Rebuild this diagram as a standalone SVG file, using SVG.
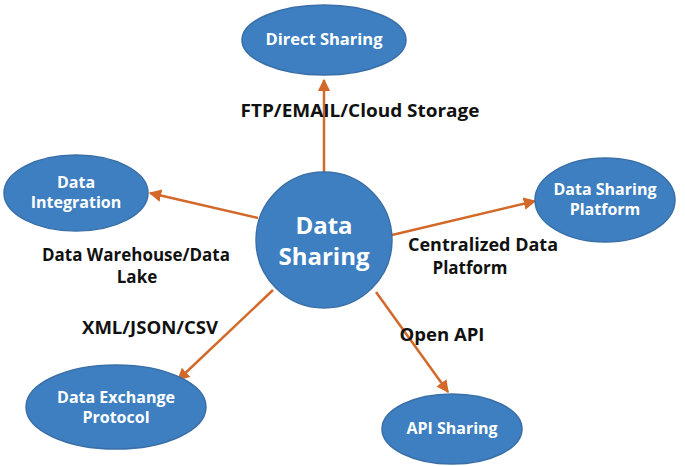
<svg xmlns="http://www.w3.org/2000/svg" width="685" height="466" viewBox="0 0 685 466">
<defs>
<marker id="ah" viewBox="0 0 10 10" refX="9" refY="5" markerWidth="5" markerHeight="5" orient="auto"><path d="M0,0 L10,5 L0,10 z" fill="#d2692a"/></marker>
<style>
.n{fill:#3e7fc1;stroke:#3a6fa8;stroke-width:1.5}
.t{fill:#fff;font-family:"Open Sans","Noto Sans",sans-serif;font-weight:bold;font-size:16px;text-anchor:middle}
.l{fill:#111;font-family:"Open Sans","Noto Sans",sans-serif;font-weight:bold;font-size:17px;text-anchor:middle}
.c{stroke:#d2692a;stroke-width:2.5;fill:none;marker-end:url(#ah)}
</style>
</defs>
<rect width="685" height="466" fill="#fff"/>
<g id="connectors">
<line class="c" x1="324" y1="172" x2="324" y2="80"/>
<line class="c" x1="258" y1="218" x2="150" y2="193"/>
<line class="c" x1="392" y1="235" x2="535" y2="201"/>
<line class="c" x1="273" y1="290" x2="178" y2="380"/>
<line class="c" x1="376" y1="292" x2="448" y2="392"/>
</g>
<g id="center"><circle class="n" cx="324" cy="240" r="68"/><text class="t" style="font-size:24px" x="324" y="234">Data</text><text class="t" style="font-size:24px" x="324" y="265">Sharing</text></g>
<g id="direct"><ellipse class="n" cx="324" cy="40" rx="82" ry="35"/><text class="t" x="324" y="45" textLength="117" lengthAdjust="spacingAndGlyphs">Direct Sharing</text></g>
<g id="integration"><ellipse class="n" cx="76" cy="193" rx="72" ry="38"/><text class="t" x="76" y="188">Data</text><text class="t" x="76" y="208">Integration</text></g>
<g id="platform"><ellipse class="n" cx="605" cy="200" rx="70" ry="42"/><text class="t" x="605" y="195">Data Sharing</text><text class="t" x="605" y="215">Platform</text></g>
<g id="exchange"><ellipse class="n" cx="116" cy="407" rx="90" ry="42"/><text class="t" x="116" y="403">Data Exchange</text><text class="t" x="116" y="423">Protocol</text></g>
<g id="api"><ellipse class="n" cx="452" cy="429" rx="70" ry="35"/><text class="t" x="452" y="434">API Sharing</text></g>
<g id="labels">
<text class="l" x="360" y="117" textLength="239" lengthAdjust="spacingAndGlyphs">FTP/EMAIL/Cloud Storage</text>
<text class="l" x="136" y="261" textLength="188" lengthAdjust="spacingAndGlyphs">Data Warehouse/Data</text>
<text class="l" x="137" y="283">Lake</text>
<text class="l" x="483" y="251" textLength="150" lengthAdjust="spacingAndGlyphs">Centralized Data</text>
<text class="l" x="470" y="274">Platform</text>
<text class="l" x="150" y="334" textLength="136" lengthAdjust="spacingAndGlyphs">XML/JSON/CSV</text>
<text class="l" x="442" y="341" textLength="85" lengthAdjust="spacingAndGlyphs">Open API</text>
</g>
</svg>
